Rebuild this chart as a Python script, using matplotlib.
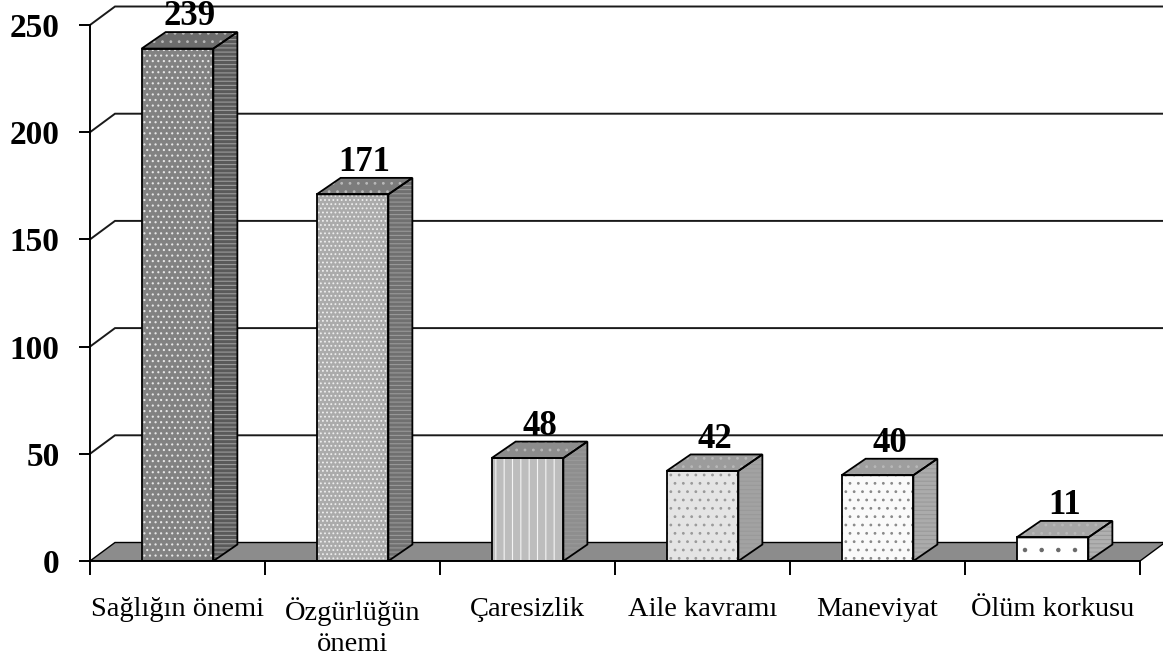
import numpy as np
import matplotlib
matplotlib.use("Agg")
import matplotlib.pyplot as plt
from matplotlib.patches import Polygon

categories = ["Sağlığın önemi", "Özgürlüğün\nönemi", "Çaresizlik", "Aile kavramı", "Maneviyat", "Ölüm korkusu"]
values = [239, 171, 48, 42, 40, 11]
yticks = [0, 50, 100, 150, 200, 250]

front_colors = ["#828282", "#ababab", "#bdbdbd", "#e4e4e4", "#fafafa", "#ffffff"]
front_hatch = ["...", "....", "||", "..", "..", "."]
front_hcol = ["#e6e6e6", "#eeeeee", "#f4f4f4", "#9a9a9a", "#8a8a8a", "#6a6a6a"]
side_colors = ["#5a5a5a", "#707070", "#8e8e8e", "#a2a2a2", "#ababab", "#b0b0b0"]
top_colors = ["#6c6c6c", "#7c7c7c", "#8c8c8c", "#9c9c9c", "#9e9e9e", "#a6a6a6"]

plt.rcParams['font.family'] = ['Liberation Serif', 'DejaVu Serif']
plt.rcParams['hatch.linewidth'] = 0.8

W, H = 1163, 661
fig = plt.figure(figsize=(W / 100, H / 100), dpi=100)

px_per_cat = 175.0
px_per_unit = 536.0 / 250.0
x0_px, y0_px = 90, 561
wdx, wdy = 25 / px_per_cat, 18.5 / px_per_unit   # wall depth
bdx, bdy = 24 / px_per_cat, 16.5 / px_per_unit   # bar depth
n = len(categories)
xmin, xmax = -0.5, n - 0.5 + wdx
ymax = y0_px / px_per_unit

ax = fig.add_axes([x0_px / W, (H - y0_px) / H, (xmax - xmin) * px_per_cat / W, y0_px / H])
ax.set_xlim(xmin, xmax)
ax.set_ylim(0, ymax)

# floor
floor = Polygon([(-0.5, 0), (n - 0.5, 0), (n - 0.5 + wdx, wdy), (-0.5 + wdx, wdy)],
                closed=True, facecolor="#8c8c8c", edgecolor="black", lw=1.0, zorder=1)
ax.add_patch(floor)

# gridlines on left wall + back wall
for v in yticks[1:]:
    ax.plot([-0.5, -0.5 + wdx, xmax + 0.1], [v, v + wdy, v + wdy], color="#1a1a1a", lw=1.4,
            zorder=1.5, clip_on=False, solid_joinstyle="miter")

bw = 0.41
for i, v in enumerate(values):
    xl, xr = i - bw / 2, i + bw / 2
    front = [(xl, 0), (xr, 0), (xr, v), (xl, v)]
    side = [(xr, 0), (xr + bdx, bdy), (xr + bdx, v + bdy), (xr, v)]
    top = [(xl, v), (xr, v), (xr + bdx, v + bdy), (xl + bdx, v + bdy)]
    for poly, fc, hatch, hc in [(side, side_colors[i], "----", "#9a9a9a"),
                                (top, top_colors[i], "..", "#b8b8b8"),
                                (front, front_colors[i], front_hatch[i], front_hcol[i])]:
        ax.add_patch(Polygon(poly, closed=True, facecolor=fc, edgecolor=hc, lw=0,
                             hatch=hatch, zorder=3))
        ax.add_patch(Polygon(poly, closed=True, facecolor="none", edgecolor="black",
                             lw=1.3, zorder=3.5, joinstyle="miter"))
    ax.annotate(str(v), xy=(i + bdx / 2, v + bdy), xytext=(0, -1), textcoords="offset points",
                ha="center", va="bottom", fontsize=25, fontweight="bold", zorder=5,
                annotation_clip=False)

# axes styling
for s in ["top", "right"]:
    ax.spines[s].set_visible(False)
ax.spines["left"].set_bounds(0, 250)
ax.spines["bottom"].set_bounds(-0.5, n - 0.5)
ax.spines["left"].set_linewidth(1.4)
ax.spines["bottom"].set_linewidth(1.4)
ax.spines["left"].set_zorder(4)
ax.spines["bottom"].set_zorder(4)

ax.set_yticks(yticks)
ax.set_yticklabels([str(t) for t in yticks], fontsize=24, fontweight="bold")
ax.tick_params(axis="y", length=8, width=1.4, pad=14)

ax.set_xticks(np.arange(-0.5, n, 1.0))
ax.set_xticklabels([""] * (n + 1))
ax.set_xticks(np.arange(n), minor=True)
ax.set_xticklabels(categories, minor=True, fontsize=20.5, linespacing=1.3, va="top")
ax.tick_params(axis="x", which="minor", length=0, pad=26)
ax.tick_params(axis="x", which="major", length=10, width=1.4)

fig.savefig("out.png", dpi=100)
